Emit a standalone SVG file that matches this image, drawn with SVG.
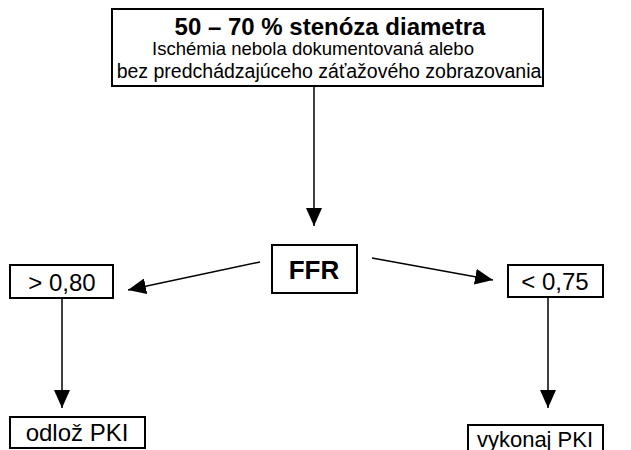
<svg xmlns="http://www.w3.org/2000/svg" width="631" height="450" viewBox="0 0 631 450">
<style>
.box{fill:#fff;stroke:#000;stroke-width:2}
.t{font-family:"Liberation Sans",Arial,sans-serif;fill:#000;text-anchor:middle}
.b{font-weight:bold}
.c{stroke:#000;stroke-width:1.5;fill:none}
</style>
<defs>
<marker id="ahl" viewBox="0 0 10 10" refX="10" refY="5" markerWidth="18" markerHeight="16" markerUnits="userSpaceOnUse" orient="auto" preserveAspectRatio="none">
<path d="M0,0 L10,5 L0,10 z" fill="#000"/>
</marker>
</defs>
<g id="connectors">
<line class="c" x1="314" y1="86" x2="314" y2="226" marker-end="url(#ahl)"/>
<line class="c" x1="260" y1="262" x2="128" y2="290" marker-end="url(#ahl)"/>
<line class="c" x1="372" y1="258" x2="493" y2="280" marker-end="url(#ahl)"/>
<line class="c" x1="62" y1="298" x2="62" y2="408" marker-end="url(#ahl)"/>
<line class="c" x1="548" y1="297" x2="548" y2="408" marker-end="url(#ahl)"/>
</g>
<g id="top">
<rect class="box" x="112" y="9" width="431" height="77"/>
<text class="t b" x="330" y="35" font-size="24">50 – 70 % stenóza diametra</text>
<text class="t" x="313" y="55" font-size="18.5">Ischémia nebola dokumentovaná alebo</text>
<text class="t" x="329" y="78" font-size="19.5">bez predchádzajúceho záťažového zobrazovania</text>
</g>
<g id="ffr">
<rect class="box" x="272" y="245" width="85" height="48"/>
<text class="t b" x="314" y="279" font-size="26">FFR</text>
</g>
<g id="gt080">
<rect class="box" x="10" y="265" width="103" height="33"/>
<text class="t" x="62" y="291" font-size="24">&gt; 0,80</text>
</g>
<g id="lt075">
<rect class="box" x="508" y="265" width="95" height="32"/>
<text class="t" x="555" y="290" font-size="24">&lt; 0,75</text>
</g>
<g id="odloz">
<rect class="box" x="10" y="417" width="135" height="31"/>
<text class="t" x="77" y="441" font-size="24">odlož PKI</text>
</g>
<g id="vykonaj">
<rect class="box" x="468" y="425" width="135" height="30"/>
<text class="t" x="535" y="447" font-size="22">vykonaj PKI</text>
</g>
</svg>
